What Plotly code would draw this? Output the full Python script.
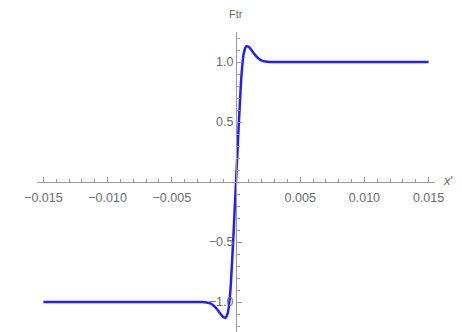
import plotly.graph_objects as go

x_vals = [-0.015, -0.004, -0.0026, -0.0023, -0.002, -0.0018, -0.0016, -0.0014, -0.0012,
          -0.001, -0.0009, -0.0008, -0.0007, -0.0006, -0.0005, -0.0004, -0.0003, -0.0002,
          -0.0001, 0.0, 0.0001, 0.0002, 0.0003, 0.0004, 0.0005, 0.0006, 0.0007, 0.0008,
          0.0009, 0.001, 0.0012, 0.0014, 0.0016, 0.0018, 0.002, 0.0023, 0.0026, 0.004, 0.015]
y_vals = [-1.0, -1.0, -1.0, -1.004, -1.012, -1.025, -1.045, -1.07, -1.10,
          -1.125, -1.13, -1.13, -1.11, -1.07, -0.98, -0.85, -0.65, -0.45,
          -0.22, 0.0, 0.22, 0.45, 0.65, 0.85, 0.98, 1.07, 1.11, 1.13,
          1.13, 1.125, 1.10, 1.07, 1.045, 1.025, 1.012, 1.004, 1.0, 1.0, 1.0]

x_ticks = [-0.015, -0.010, -0.005, 0.005, 0.010, 0.015]
x_tick_text = ["\u22120.015", "\u22120.010", "\u22120.005", "0.005", "0.010", "0.015"]
y_ticks = [-1.0, -0.5, 0.5, 1.0]
y_tick_text = ["\u22121.0", "\u22120.5", "0.5", "1.0"]

axis_color = "#999999"
label_color = "#6a6a6a"
font = dict(family="Liberation Sans, Arial, sans-serif", size=12.5, color=label_color)
small_font = dict(family="Liberation Sans, Arial, sans-serif", size=11, color=label_color)

fig = go.Figure()
fig.add_trace(go.Scatter(x=x_vals, y=y_vals, mode="lines",
                         line=dict(color="#2020ff", width=2.5, shape="spline", smoothing=0.6),
                         hoverinfo="skip", showlegend=False))

fig.update_layout(
    width=454, height=324,
    margin=dict(l=29, r=27, t=24, b=0, autoexpand=False),
    paper_bgcolor="white", plot_bgcolor="white",
    font=font,
    xaxis=dict(range=[-0.0155, 0.0155], showgrid=False, zeroline=False,
               showline=True, linecolor=axis_color, linewidth=1,
               anchor="free", position=0.5, automargin=False,
               tickvals=x_ticks, ticktext=x_tick_text,
               ticks="inside", ticklen=5, tickcolor=axis_color, tickwidth=1,
               ticklabelstandoff=4,
               minor=dict(ticks="inside", ticklen=3, dtick=0.001, tick0=0,
                          tickcolor=axis_color, showgrid=False),
               tickfont=font, fixedrange=True),
    yaxis=dict(range=[-1.25, 1.25], showgrid=False, zeroline=False,
               showline=True, linecolor=axis_color, linewidth=1,
               anchor="free", position=0.5, automargin=False,
               tickvals=y_ticks, ticktext=y_tick_text,
               ticks="inside", ticklen=5, tickcolor=axis_color, tickwidth=1,
               minor=dict(ticks="inside", ticklen=3, dtick=0.1, tick0=0,
                          tickcolor=axis_color, showgrid=False),
               tickfont=font, fixedrange=True),
    annotations=[
        dict(text="Ftr", x=0.5, y=1.0, xref="paper", yref="paper",
             xanchor="center", yanchor="bottom", yshift=10, showarrow=False,
             font=small_font),
        dict(text="<i>x</i>'", x=1.0, y=0.5, xref="paper", yref="paper",
             xanchor="left", yanchor="middle", xshift=6, yshift=2, showarrow=False,
             font=dict(family="Liberation Sans, Arial, sans-serif", size=13, color=label_color)),
    ],
)

fig.write_html("out.html")
